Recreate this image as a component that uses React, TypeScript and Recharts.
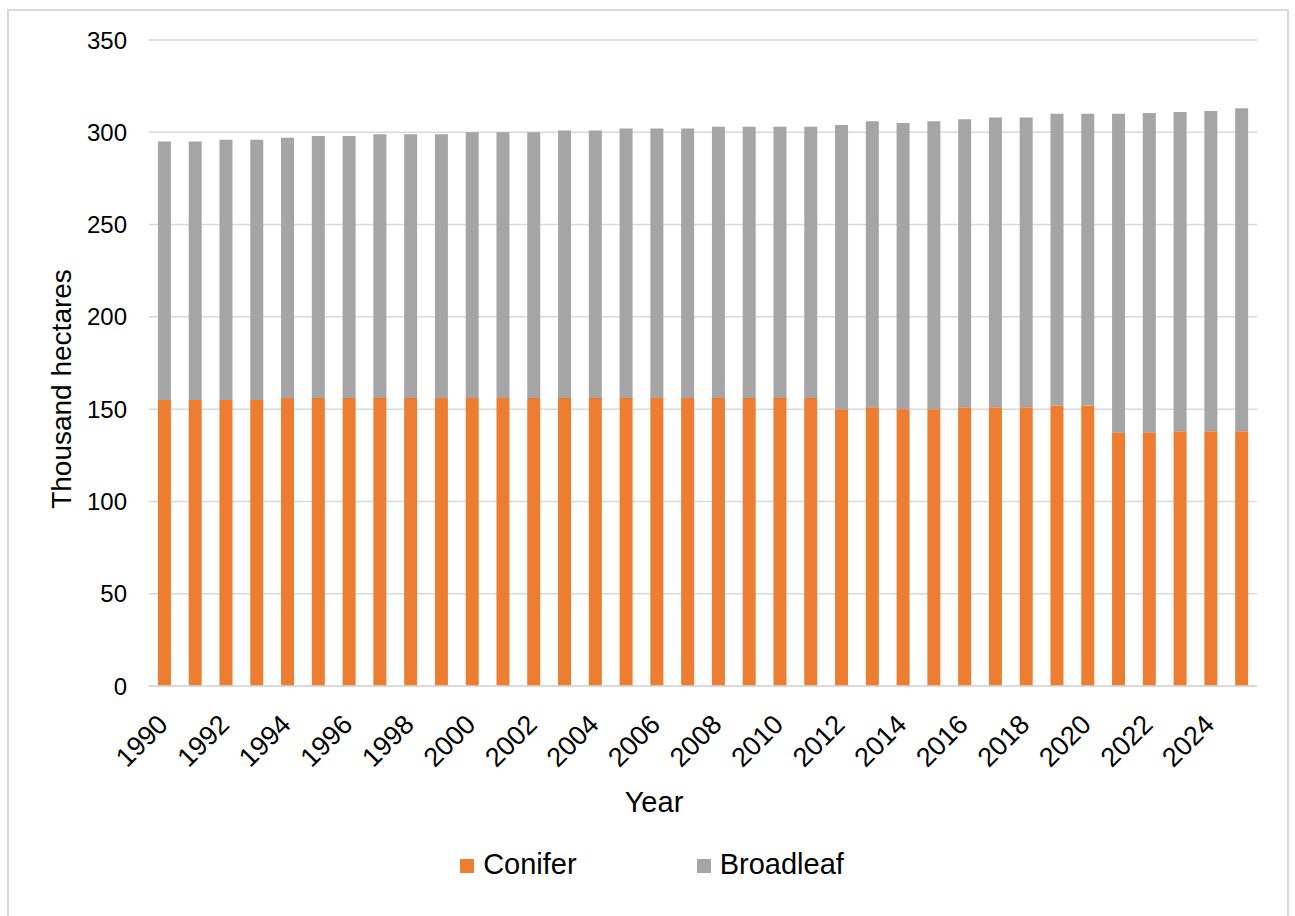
import React from "react";
import { BarChart, Bar, XAxis, YAxis, CartesianGrid, Legend, Label } from "recharts";

// Forest area by leaf type, thousand hectares
const years = [
  "1990", "1991", "1992", "1993", "1994", "1995", "1996", "1997", "1998", "1999",
  "2000", "2001", "2002", "2003", "2004", "2005", "2006", "2007", "2008", "2009",
  "2010", "2011", "2012", "2013", "2014", "2015", "2016", "2017", "2018", "2019",
  "2020", "2021", "2022", "2023", "2024", "2025",
];

const conifer = [
  155, 155, 155, 155, 156, 156, 156, 156, 156, 156,
  156, 156, 156, 156, 156, 156, 156, 156, 156, 156,
  156, 156, 150, 151, 150, 150, 151, 151, 151, 152,
  152, 137.5, 137.5, 138, 138, 138,
];

const broadleaf = [
  140, 140, 141, 141, 141, 142, 142, 143, 143, 143,
  144, 144, 144, 145, 145, 146, 146, 146, 147, 147,
  147, 147, 154, 155, 155, 156, 156, 157, 157, 158,
  158, 172.5, 173, 173, 173.5, 175,
];

const yTicks = [0, 50, 100, 150, 200, 250, 300, 350];

const CONIFER_COLOR = "#ED7D31";
const BROADLEAF_COLOR = "#A5A5A5";
const GRID_COLOR = "#D9D9D9";
const FONT = "'Liberation Sans', Arial, sans-serif";

const data = years.map((year, i) => ({
  year,
  Conifer: conifer[i],
  Broadleaf: broadleaf[i],
}));

const YearTick = (props: any) => {
  const { x, y, payload } = props;
  const ax = x + 5;
  const ay = y + 32;
  return (
    <text
      x={ax}
      y={ay}
      transform={`rotate(-45 ${ax} ${ay})`}
      textAnchor="end"
      fontSize={27}
      fontFamily={FONT}
      fill="#000"
    >
      {payload.value}
    </text>
  );
};

const LegendContent = () => {
  const items = [
    { name: "Conifer", color: CONIFER_COLOR },
    { name: "Broadleaf", color: BROADLEAF_COLOR },
  ];
  return (
    <div
      style={{
        display: "flex",
        justifyContent: "center",
        alignItems: "center",
        gap: 120,
        height: 40,
        paddingLeft: 8,
        fontFamily: FONT,
        fontSize: 29,
        color: "#000",
      }}
    >
      {items.map((it) => (
        <div key={it.name} style={{ display: "flex", alignItems: "center" }}>
          <span
            style={{
              width: 14,
              height: 14,
              background: it.color,
              display: "inline-block",
              marginRight: 9,
              marginTop: 4,
            }}
          />
          <span>{it.name}</span>
        </div>
      ))}
    </div>
  );
};

export default function App() {
  return (
    <div
      style={{
        position: "fixed",
        left: 7,
        top: 9,
        width: 1282,
        height: 930,
        border: `2px solid ${GRID_COLOR}`,
        boxSizing: "border-box",
        background: "#fff",
      }}
    >
      <BarChart
        width={1278}
        height={900}
        data={data}
        margin={{ top: 29, right: 30, left: 0, bottom: 0 }}
        barCategoryGap="29%"
      >
        <CartesianGrid vertical={false} stroke={GRID_COLOR} strokeWidth={1.5} />
        <XAxis
          dataKey="year"
          height={185}
          interval={1}
          axisLine={{ stroke: GRID_COLOR, strokeWidth: 1.5 }}
          tickLine={false}
          tick={<YearTick />}
        >
          <Label
            content={() => (
              <text
                x={645}
                y={801}
                textAnchor="middle"
                fontSize={29}
                fontFamily={FONT}
                fill="#000"
              >
                Year
              </text>
            )}
          />
        </XAxis>
        <YAxis
          width={140}
          domain={[0, 350]}
          ticks={yTicks}
          interval={0}
          axisLine={false}
          tickLine={false}
          tickMargin={16}
          tick={{ fontSize: 24, fontFamily: FONT, fill: "#000" }}
        >
          <Label
            content={() => (
              <text
                x={0}
                y={0}
                transform="translate(52 378) rotate(-90)"
                textAnchor="middle"
                dominantBaseline="central"
                fontSize={28}
                fontFamily={FONT}
                fill="#000"
              >
                Thousand hectares
              </text>
            )}
          />
        </YAxis>
        <Legend
          verticalAlign="bottom"
          content={<LegendContent />}
          wrapperStyle={{ top: 833, bottom: "auto", left: 0, width: 1278, height: 40 }}
        />
        <Bar dataKey="Conifer" stackId="a" fill={CONIFER_COLOR} isAnimationActive={false} />
        <Bar dataKey="Broadleaf" stackId="a" fill={BROADLEAF_COLOR} isAnimationActive={false} />
      </BarChart>
    </div>
  );
}
